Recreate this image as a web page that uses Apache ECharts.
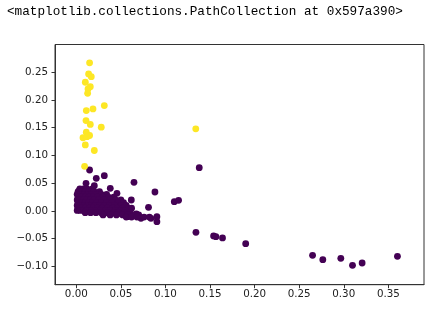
<!DOCTYPE html>
<html>
<head>
<meta charset="utf-8">
<script src="https://cdn.jsdelivr.net/npm/echarts@6/dist/echarts.min.js"></script>
<style>html,body{margin:0;padding:0;background:#fff}#c{width:444px;height:312px}</style>
</head>
<body>
<div id="c"></div>
<script>
const outputText = '<matplotlib.collections.PathCollection at 0x597a390>';
const xTicks = [0.00, 0.05, 0.10, 0.15, 0.20, 0.25, 0.30, 0.35];
const yTicks = [-0.10, -0.05, 0.00, 0.05, 0.10, 0.15, 0.20, 0.25];

// cluster 1 (yellow)
const yellowPoints = [
  [0.0149, 0.267], [0.0138, 0.247], [0.0168, 0.242], [0.0101, 0.232], [0.0157, 0.224],
  [0.0131, 0.220], [0.0127, 0.212], [0.0112, 0.181], [0.0187, 0.184], [0.0314, 0.190],
  [0.0109, 0.163], [0.0157, 0.156], [0.0280, 0.151], [0.134, 0.148], [0.0112, 0.142],
  [0.0149, 0.136], [0.0075, 0.132], [0.0120, 0.134], [0.0101, 0.119], [0.0202, 0.109],
  [0.0093, 0.0805]
];

// cluster 0 (purple)
const purplePoints = [
  [0.1379, 0.078], [0.1099, 0.0168], [0.1147, 0.0193], [0.1342, -0.0384], [0.154, -0.045],
  [0.1566, -0.0463], [0.164, -0.0486], [0.190, -0.0589], [0.265, -0.0799], [0.2765, -0.0877],
  [0.2967, -0.0853], [0.3098, -0.0979], [0.3206, -0.0937], [0.3602, -0.0817],
  [0.0647, 0.0517], [0.0882, 0.0342], [0.0617, 0.0198], [0.081, 0.0066], [0.0904, -0.0192],
  [0.0904, -0.0102], [0.0837, -0.0132], [0.0725, -0.0132], [0.0673, -0.0054], [0.0575, -0.0102],
  [0.0493, -0.0042], [0.0314, 0.0637], [0.0224, 0.0589], [0.0149, 0.0739], [0.0109, 0.0499],
  [0.0381, 0.0409], [0.0456, 0.0319], [0.0202, 0.0456], [0.0037, 0.0378],
  [0.004, 0.040], [0.008, 0.040], [0.012, 0.040], [0.018, 0.040],
  [0.002, 0.035], [0.006, 0.035], [0.010, 0.035], [0.014, 0.035], [0.020, 0.035], [0.026, 0.035],
  [0.001, 0.030], [0.005, 0.030], [0.009, 0.030], [0.013, 0.030], [0.017, 0.030], [0.022, 0.030], [0.028, 0.030], [0.034, 0.030],
  [0.002, 0.025], [0.006, 0.025], [0.010, 0.025], [0.014, 0.025], [0.019, 0.025], [0.024, 0.025], [0.030, 0.025], [0.036, 0.025], [0.042, 0.025],
  [0.001, 0.020], [0.004, 0.020], [0.008, 0.020], [0.012, 0.020], [0.016, 0.020], [0.020, 0.020], [0.025, 0.020], [0.031, 0.020], [0.038, 0.020], [0.044, 0.020], [0.050, 0.020],
  [0.002, 0.015], [0.006, 0.015], [0.010, 0.015], [0.014, 0.015], [0.018, 0.015], [0.023, 0.015], [0.028, 0.015], [0.034, 0.015], [0.040, 0.015], [0.047, 0.015], [0.053, 0.015],
  [0.001, 0.010], [0.005, 0.010], [0.009, 0.010], [0.013, 0.010], [0.017, 0.010], [0.021, 0.010], [0.026, 0.010], [0.032, 0.010], [0.037, 0.010], [0.043, 0.010], [0.050, 0.010], [0.056, 0.010],
  [0.002, 0.005], [0.006, 0.005], [0.010, 0.005], [0.015, 0.005], [0.019, 0.005], [0.024, 0.005], [0.029, 0.005], [0.035, 0.005], [0.041, 0.005], [0.046, 0.005], [0.052, 0.005], [0.058, 0.005], [0.062, 0.005],
  [0.001, 0.001], [0.004, 0.001], [0.008, 0.001], [0.012, 0.001], [0.017, 0.001], [0.022, 0.001], [0.027, 0.001], [0.033, 0.001], [0.038, 0.001], [0.044, 0.001], [0.050, 0.001], [0.055, 0.001],
  [0.010, -0.003], [0.016, -0.003], [0.022, -0.003], [0.028, -0.003], [0.035, -0.003], [0.042, -0.003], [0.047, -0.003], [0.054, -0.003], [0.060, -0.003],
  [0.030, -0.007], [0.038, -0.007], [0.045, -0.007], [0.052, -0.007], [0.058, -0.007], [0.064, -0.007], [0.070, -0.007],
  [0.056, -0.011], [0.062, -0.011], [0.068, -0.011], [0.076, -0.011], [0.082, -0.011]
];

const fmt = v => {
  const s = Number(v).toFixed(2);
  return s.startsWith('-') ? '\u2212' + s.slice(1) : s;
};

const chart = echarts.init(document.getElementById('c'), null, {renderer: 'canvas'});
const axisColor = '#333';
chart.setOption({
  animation: false,
  backgroundColor: '#fff',
  graphic: [{
    type: 'text', left: 7, top: 5,
    style: {text: outputText, fontFamily: 'Liberation Mono', fontSize: 12.7, fill: '#000'}
  }],
  grid: {left: 55, right: 20, top: 44.5, bottom: 27.3, show: true, borderColor: axisColor, borderWidth: 1, backgroundColor: '#fff', containLabel: false},
  xAxis: {
    type: 'value', min: -0.0239, max: 0.390, position: 'bottom',
    splitLine: {show: false},
    axisLine: {show: true, onZero: false, lineStyle: {color: axisColor, width: 1}},
    axisTick: {show: true, inside: false, length: 3.5, customValues: xTicks, lineStyle: {color: axisColor}},
    axisLabel: {customValues: xTicks, formatter: fmt, fontFamily: 'DejaVu Sans', fontSize: 10.3, color: '#222', margin: 5}
  },
  yAxis: {
    type: 'value', min: -0.1328, max: 0.300, position: 'left',
    splitLine: {show: false},
    axisLine: {show: true, onZero: false, lineStyle: {color: axisColor, width: 1}},
    axisTick: {show: true, inside: false, length: 3.5, customValues: yTicks, lineStyle: {color: axisColor}},
    axisLabel: {customValues: yTicks, formatter: fmt, fontFamily: 'DejaVu Sans', fontSize: 10.3, color: '#222', margin: 7}
  },
  series: [
    {type: 'scatter', data: purplePoints, symbolSize: 6.8, itemStyle: {color: '#440154', opacity: 1}, z: 2},
    {type: 'scatter', data: yellowPoints, symbolSize: 6.8, itemStyle: {color: '#fde725', opacity: 1}, z: 3}
  ]
});
</script>
</body>
</html>
